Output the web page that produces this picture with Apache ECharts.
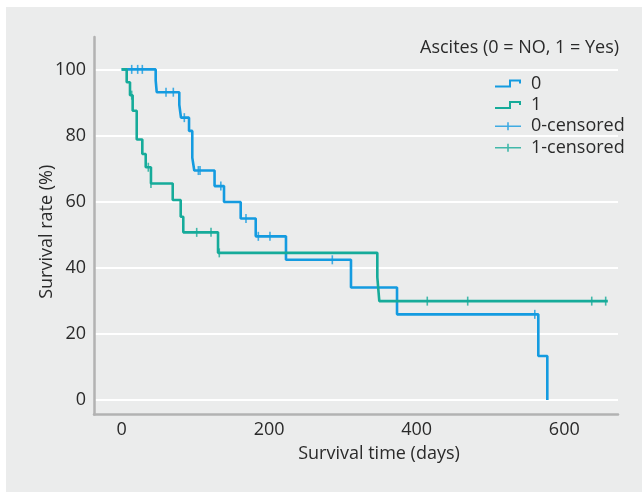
<!DOCTYPE html>
<html>
<head>
<meta charset="utf-8">
<script src="https://cdn.jsdelivr.net/npm/echarts@6/dist/echarts.min.js"></script>
<style>
html,body{margin:0;padding:0;background:#ffffff;}
#chart{width:642px;height:492px;}
</style>
</head>
<body>
<div id="chart"></div>
<script>
// Kaplan-Meier step points [days, survival %]
const group0Steps = [[0,100],[46.2,96.7],[47.6,93.1],[78.2,89.3],[80.5,85.4],[91.4,81.4],[95.8,73.3],[98.5,69.4],[126,64.7],[138.8,59.9],[161.4,54.9],[181.8,49.5],[222.8,42.4],[310.9,34.0],[373.3,25.9],[564.8,13.3],[577,0]];
const group1Steps = [[0,100],[6.9,96.1],[11.4,92.2],[15,87.5],[20.5,78.8],[28.1,74.4],[32.7,70.4],[39.8,65.5],[69.3,60.5],[80.1,55.4],[83.6,50.7],[130.7,44.5],[346.6,37.1],[349.3,29.9],[659,29.9]];
// censored observations [days, survival %]
const group0Censored = [[13.7,100],[21.8,100],[28.1,100],[60.2,93.1],[70.1,93.1],[85,85.4],[104,69.4],[106.3,69.4],[134.5,64.7],[168.6,54.9],[185.3,49.5],[201.1,49.5],[285.6,42.4],[560,25.9]];
const group1Censored = [[13.7,92.2],[36.2,70.4],[39.8,65.5],[101.8,50.7],[121.2,50.7],[132.4,44.5],[414.3,29.9],[469.1,29.9],[637.2,29.9],[656.1,29.9]];
const xTicks = [0,200,400,600];
const yTicks = [0,20,40,60,80,100];
const seriesNames = ['0','1','0-censored','1-censored'];
const legendTitle = 'Ascites (0 = NO, 1 = Yes)';
const xName = 'Survival time (days)';
const yName = 'Survival rate (%)';

const BLUE = '#149be0';
const GREEN = '#16ab9a';
const FONT = 'Open Sans';
const FS = 18;
const TXT = '#2a2a2a';
const stepIcon = 'path://M0,6 H14 V0 H26 V4 H24 V2 H16 V8 H0 Z';
const censIcon = 'path://M0,3.2 H12.2 V0 H13.8 V3.2 H26 V4.8 H13.8 V8 H12.2 V4.8 H0 Z';

const chart = echarts.init(document.getElementById('chart'), null, {renderer:'canvas'});
chart.setOption({
  backgroundColor: '#ffffff',
  animation: false,
  textStyle: {fontFamily: FONT},
  graphic: [{
    type: 'rect', z: -10, silent: true,
    shape: {x: 6, y: 7, width: 642, height: 492},
    style: {fill: '#ebecec'}
  }],
  title: {
    text: legendTitle, left: 415, top: 34,
    textStyle: {fontFamily: FONT, fontSize: FS, fontWeight: 'normal', color: TXT}
  },
  legend: {
    orient: 'vertical', left: 490, top: 68, itemWidth: 26, itemHeight: 8, itemGap: 0.4,
    itemStyle: {borderWidth: 0},
    textStyle: {fontFamily: FONT, fontSize: FS, color: TXT, lineHeight: 21, padding: [0,0,0,5]},
    data: [
      {name: seriesNames[0], icon: stepIcon},
      {name: seriesNames[1], icon: stepIcon},
      {name: seriesNames[2], icon: censIcon},
      {name: seriesNames[3], icon: censIcon}
    ]
  },
  grid: {left: 94, right: 24, top: 37, bottom: 77.5},
  xAxis: {
    type: 'value', min: -37.4, max: 672.8,
    name: xName, nameLocation: 'middle', nameGap: 30, nameMoveOverlap: false,
    nameTextStyle: {fontFamily: FONT, fontSize: FS, color: TXT, padding: [0,0,0,46]},
    axisLine: {show: true, onZero: false, lineStyle: {color: '#b2b2b2', width: 2.5}},
    axisTick: {show: false, customValues: xTicks},
    axisLabel: {customValues: xTicks, fontFamily: FONT, fontSize: FS, color: TXT, margin: 6},
    splitLine: {show: false}
  },
  yAxis: {
    type: 'value', min: -4.4, max: 109.8,
    name: yName, nameLocation: 'middle', nameGap: 38, nameMoveOverlap: false,
    nameTextStyle: {fontFamily: FONT, fontSize: FS, color: TXT, padding: [0,12,0,0]},
    axisLine: {show: true, onZero: false, lineStyle: {color: '#b2b2b2', width: 2.5}},
    axisTick: {show: false, customValues: yTicks},
    axisLabel: {customValues: yTicks, fontFamily: FONT, fontSize: FS, color: TXT, margin: 8},
    splitLine: {show: true, lineStyle: {color: '#ffffff', width: 2}}
  },
  series: [
    {name: seriesNames[0], type: 'line', step: 'end', data: group0Steps, showSymbol: false,
     color: BLUE, lineStyle: {width: 2.6, color: BLUE}, z: 3},
    {name: seriesNames[1], type: 'line', step: 'end', data: group1Steps, showSymbol: false,
     color: GREEN, lineStyle: {width: 2.6, color: GREEN}, z: 3},
    {name: seriesNames[2], type: 'scatter', data: group0Censored, symbol: 'rect', symbolSize: [1.6, 9],
     color: BLUE, itemStyle: {color: BLUE}, z: 4},
    {name: seriesNames[3], type: 'scatter', data: group1Censored, symbol: 'rect', symbolSize: [1.6, 9],
     color: GREEN, itemStyle: {color: GREEN}, z: 4}
  ]
});
</script>
</body>
</html>
